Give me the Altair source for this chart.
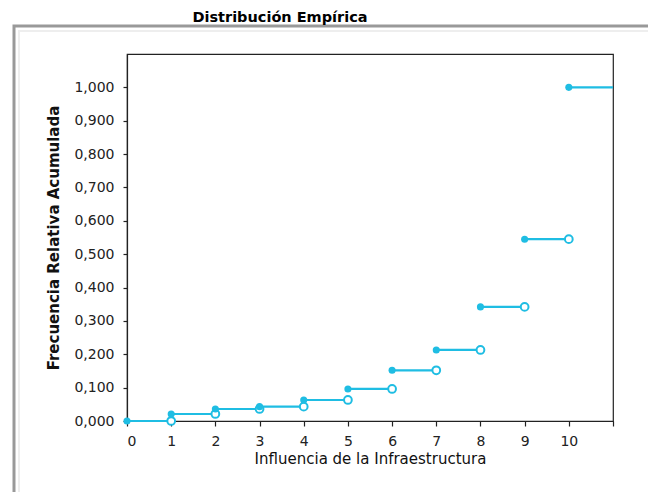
import altair as alt
import pandas as pd

influencia = [0, 1, 2, 3, 4, 5, 6, 7, 8, 9, 10]
frec_acum = [0.000, 0.021, 0.036, 0.043, 0.063, 0.096, 0.152, 0.213, 0.342, 0.545, 1.000]
x_ticks = [0, 1, 2, 3, 4, 5, 6, 7, 8, 9, 10, 11]
y_ticks = [0.0, 0.1, 0.2, 0.3, 0.4, 0.5, 0.6, 0.7, 0.8, 0.9, 1.0]

COLOR = "#1fbde3"
FONT = "DejaVu Sans"

seg = pd.DataFrame({
    "x": influencia,
    "x2": [v + 1 for v in influencia],
    "y": frec_acum,
})
open_pts = seg.iloc[:-1]

xs = alt.Scale(domain=[0, 11], nice=False, zero=False)
ys = alt.Scale(domain=[0, 1.1], nice=False)

x_axis = alt.Axis(values=x_ticks, title="Influencia de la Infraestructura",
                  labelExpr="datum.value == 11 ? '' : datum.label",
                  grid=False, tickSize=5, labelPadding=8, titlePadding=3,
                  labelFontSize=14, titleFontSize=15, titleFontWeight="normal",
                  labelOverlap=False)
y_axis = alt.Axis(values=y_ticks, title="Frecuencia Relativa Acumulada",
                  labelExpr="replace(format(datum.value, '.3f'), '.', ',')",
                  grid=False, tickSize=4, labelPadding=9, titlePadding=12,
                  labelFontSize=14, titleFontSize=15, titleFontWeight="bold",
                  labelOverlap=False)

X = alt.X("x:Q", scale=xs, axis=x_axis)
Y = alt.Y("y:Q", scale=ys, axis=y_axis)

lines = alt.Chart(seg).mark_rule(color=COLOR, strokeWidth=2.2).encode(
    x=X, x2="x2:Q", y=Y,
)

filled = alt.Chart(seg).mark_circle(color=COLOR, size=50, opacity=1).encode(
    x=X, y=Y,
)

hollow = alt.Chart(open_pts).mark_point(color=COLOR, fill="white", filled=False,
                                        size=60, strokeWidth=2, opacity=1).encode(
    x=alt.X("x2:Q", scale=xs, axis=x_axis), y=Y,
)

deco = pd.DataFrame({"t": ["Distribución Empírica"]})

outer_frame = alt.Chart(deco).mark_rect(fill=None, stroke="#999999", strokeWidth=3).encode(
    x=alt.value(-113), x2=alt.value(700), y=alt.value(-28), y2=alt.value(600)
)
inner_frame = alt.Chart(deco).mark_rect(fill=None, stroke="#eeeeee", strokeWidth=2).encode(
    x=alt.value(-108), x2=alt.value(700), y=alt.value(-23), y2=alt.value(600)
)
title = alt.Chart(deco).mark_text(font=FONT, fontSize=14.5, fontWeight="bold",
                                  baseline="top", align="center", color="black").encode(
    text="t:N", x=alt.value(153), y=alt.value(-43)
)

chart = alt.layer(outer_frame, inner_frame, lines, hollow, filled, title).properties(
    width=486, height=367,
    padding={"left": 119, "top": 46, "right": 35, "bottom": 71},
    autosize=alt.AutoSizeParams(type="none"),
    background="white",
).configure_view(
    stroke="#222222", strokeWidth=1.2
).configure_axis(
    domainColor="#222222", tickColor="#222222", labelColor="#222222", titleColor="#111111",
    labelFont=FONT, titleFont=FONT, domainWidth=1.2, tickWidth=1.2
)

chart.save("out.html", embed_options={"renderer": "svg", "actions": False})
